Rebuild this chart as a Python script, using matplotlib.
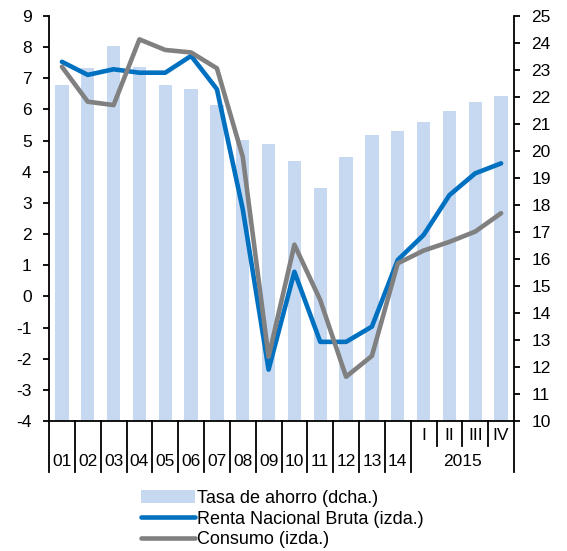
import matplotlib
matplotlib.use("Agg")
import matplotlib.pyplot as plt
import matplotlib.transforms as mtransforms
from matplotlib.patches import Patch
from matplotlib.lines import Line2D

plt.rcParams['font.family'] = ['Liberation Sans', 'DejaVu Sans']
plt.rcParams['axes.unicode_minus'] = False

categories = ['01', '02', '03', '04', '05', '06', '07', '08', '09', '10',
              '11', '12', '13', '14', 'I', 'II', 'III', 'IV']
year_label = '2015'
tasa_ahorro = [22.44, 23.06, 23.89, 23.12, 22.44, 22.30, 21.70, 20.40, 20.26,
               19.64, 18.62, 19.79, 20.59, 20.74, 21.07, 21.48, 21.83, 22.04]
renta = [7.53, 7.11, 7.29, 7.18, 7.18, 7.72, 6.65, 2.8, -2.35, 0.79,
         -1.46, -1.46, -0.97, 1.17, 1.97, 3.25, 3.95, 4.27]
consumo = [7.37, 6.25, 6.14, 8.25, 7.91, 7.83, 7.32, 4.48, -1.94, 1.66,
           -0.12, -2.58, -1.91, 1.06, 1.47, 1.75, 2.08, 2.67]
left_ticks = list(range(-4, 10))
right_ticks = list(range(10, 26))
legend_labels = ['Tasa de ahorro (dcha.)', 'Renta Nacional Bruta (izda.)', 'Consumo (izda.)']

bar_color = '#C6D9F0'
blue = '#0070C0'
gray = '#808080'
fs = 12.5

fig = plt.figure(figsize=(5.67, 5.51), dpi=100)
ax = fig.add_axes([49/567, 1-421/551, (514-49)/567, (421-16)/551])
ax2 = ax.twinx()

x = list(range(len(categories)))
ax2.bar(x, [v - 10 for v in tasa_ahorro], bottom=10, width=0.52, color=bar_color, zorder=1)
ax2.set_ylim(10, 25)
ax2.set_yticks(right_ticks)

ax.plot(x, renta, color=blue, lw=3.3, solid_joinstyle='round', solid_capstyle='round', zorder=3)
ax.plot(x, consumo, color=gray, lw=3.3, solid_joinstyle='round', solid_capstyle='round', zorder=4)
ax.set_ylim(-4, 9)
ax.set_yticks(left_ticks)
ax.set_xlim(-0.5, len(categories) - 0.5)
ax.set_zorder(ax2.get_zorder() + 1)
ax.patch.set_visible(False)

for a in (ax, ax2):
    a.spines['top'].set_visible(False)
    for s in a.spines.values():
        s.set_linewidth(1.3)
        s.set_color('black')
ax2.spines['left'].set_visible(False)
ax.spines['right'].set_visible(False)
ax2.spines['bottom'].set_visible(False)

ax.tick_params(axis='y', direction='out', length=4.5, width=1.3, labelsize=fs, pad=8)
ax2.tick_params(axis='y', direction='out', length=4.0, width=1.3, labelsize=fs, pad=8.5)
ax.set_xticks([])

trans = mtransforms.blended_transform_factory(ax.transData, ax.transAxes)
n = len(categories)
n_years = 14
for b in range(n + 1):
    xb = b - 0.5
    if b <= n_years or b == n:
        y1 = -0.126
    else:
        y1 = -0.062
    ax.plot([xb, xb], [0, y1], color='black', lw=1.3, transform=trans, clip_on=False)

for i, c in enumerate(categories):
    if i < n_years:
        ax.text(i, -0.099, c, transform=trans, ha='center', va='center', fontsize=fs)
    else:
        ax.text(i, -0.036, c, transform=trans, ha='center', va='center', fontsize=fs)
ax.text((n_years + n - 1) / 2, -0.099, year_label, transform=trans, ha='center', va='center', fontsize=fs)

handles = [Patch(facecolor=bar_color, edgecolor='none'),
           Line2D([0], [0], color=blue, lw=3.3, solid_capstyle='round'),
           Line2D([0], [0], color=gray, lw=3.3, solid_capstyle='round')]
fig.legend(handles, legend_labels, loc='upper left', bbox_to_anchor=(141/567, 1-490/551),
           frameon=False, borderpad=0, borderaxespad=0, handlelength=3.0,
           handletextpad=0.12, labelspacing=0.2, fontsize=13)

fig.savefig('out.png', dpi=100)
